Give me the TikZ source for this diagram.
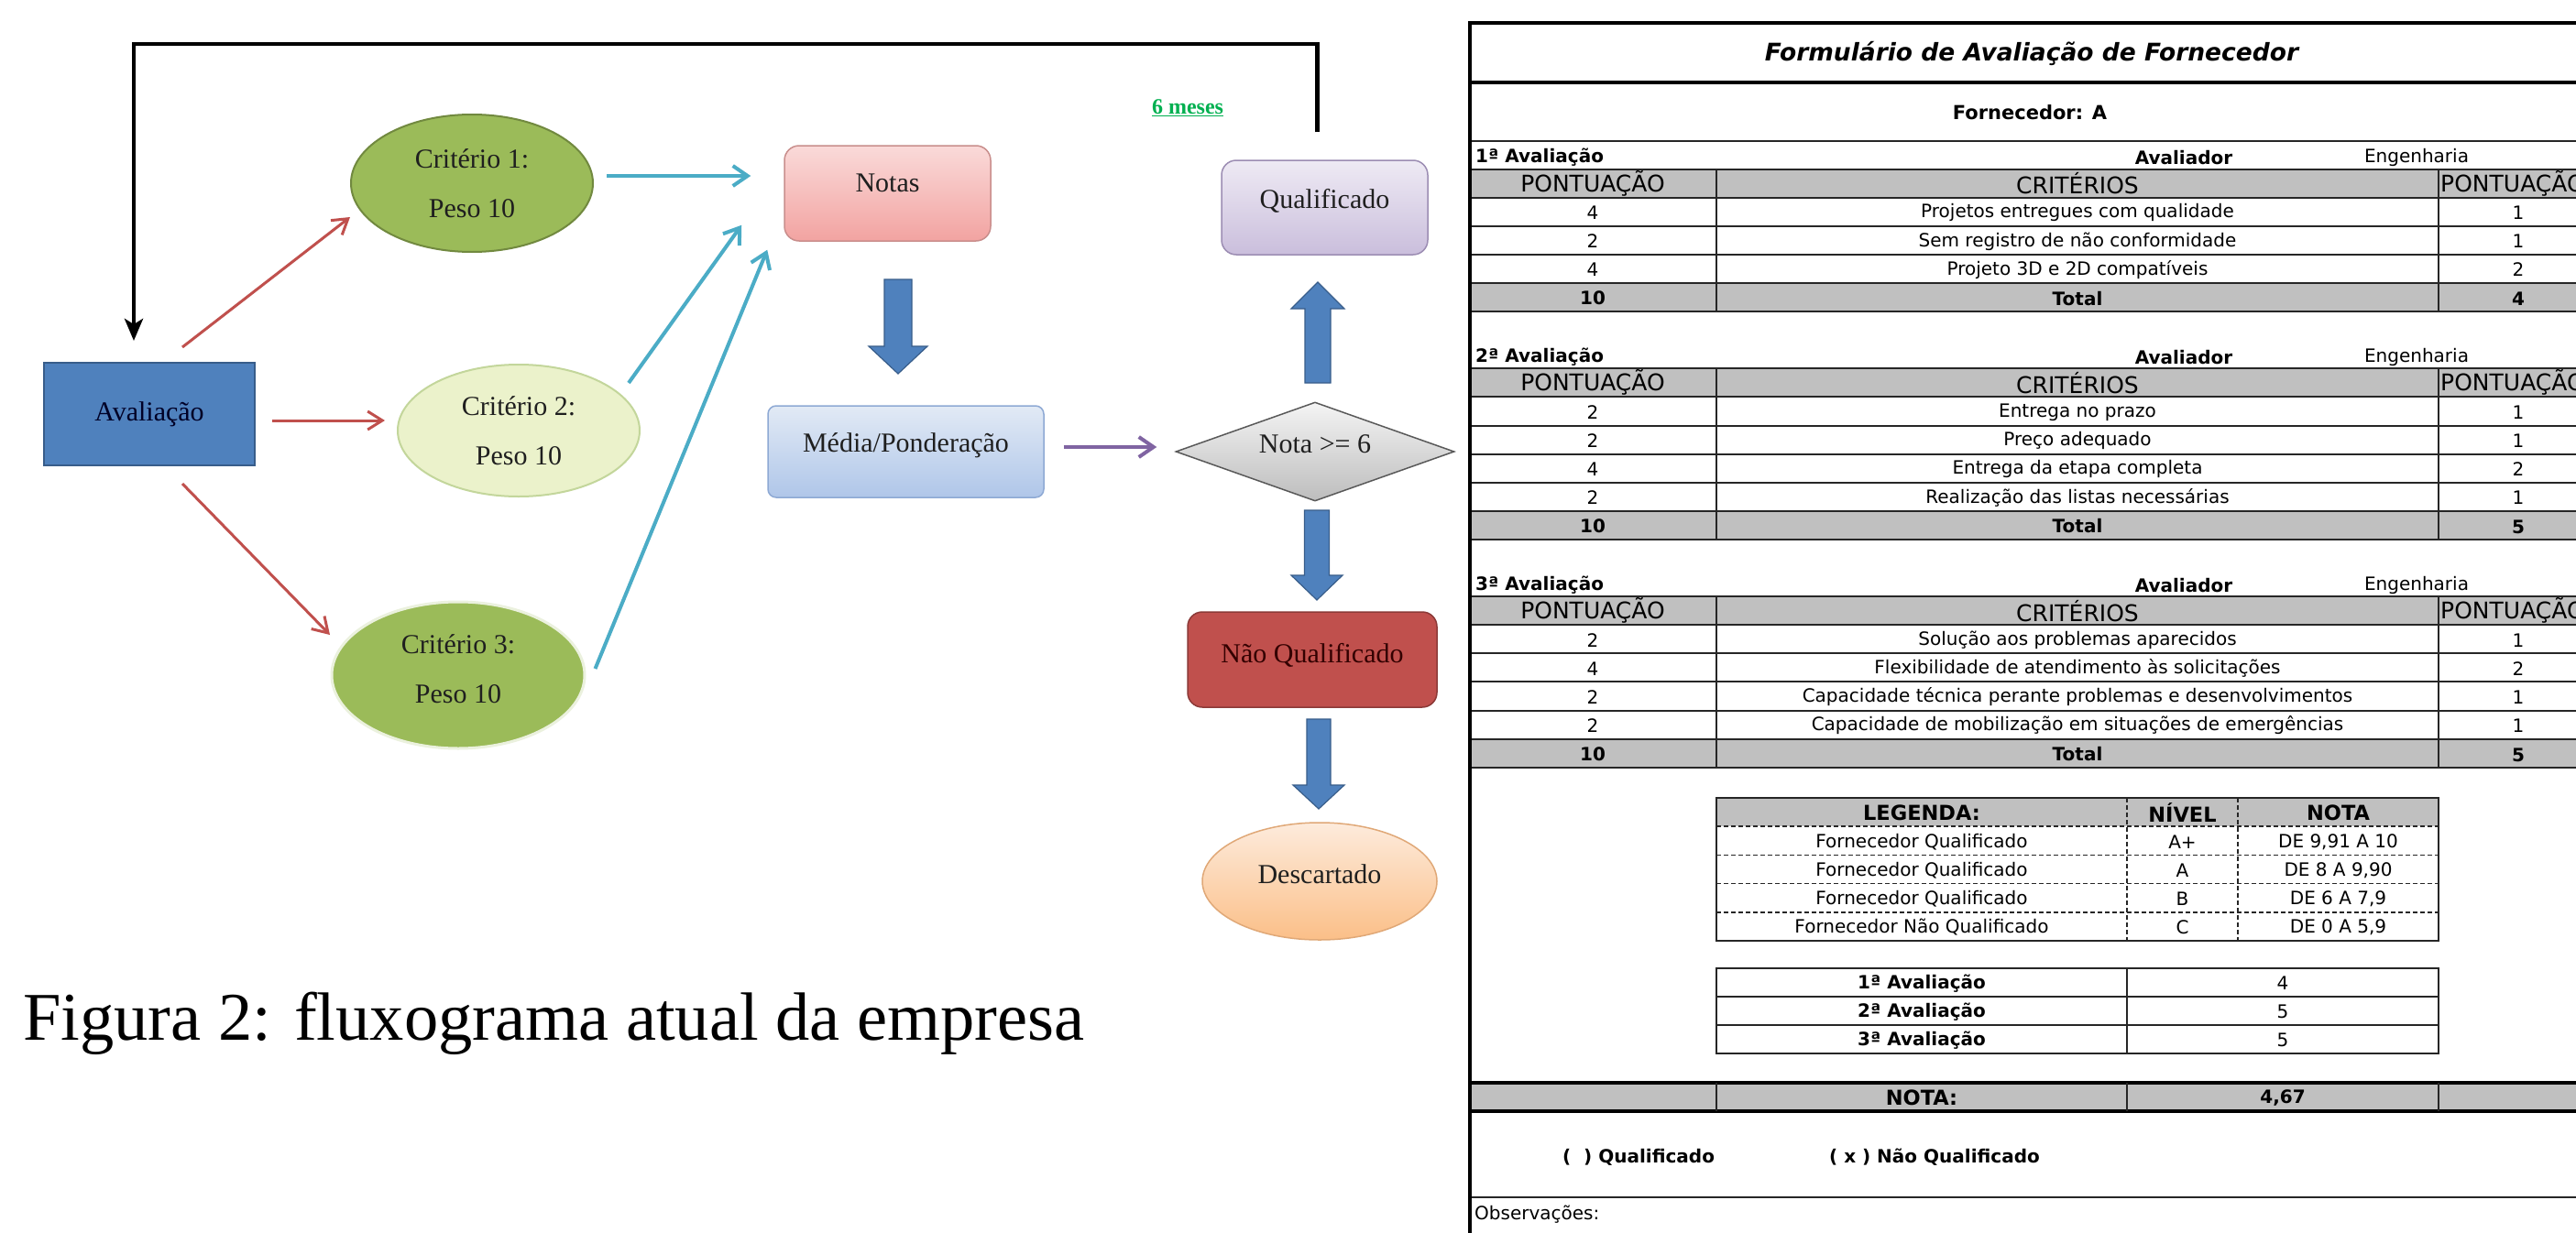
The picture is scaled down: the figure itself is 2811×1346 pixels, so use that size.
\documentclass[tikz,border=0pt]{standalone}
\usepackage{fontspec}
\usetikzlibrary{shapes.geometric,arrows.meta,calc}
\newfontfamily\diafont{Liberation Serif}
\newfontfamily\tabfont{DejaVu Sans}[BoldFont={DejaVu Sans Bold},ItalicFont={DejaVu Sans Oblique},BoldItalicFont={DejaVu Sans Bold Oblique}]
\definecolor{avalfill}{HTML}{4F81BD}
\definecolor{avalline}{HTML}{385D8A}
\definecolor{critfill}{HTML}{9BBB59}
\definecolor{critline}{HTML}{71893F}
\definecolor{crittwo}{HTML}{EBF2CB}
\definecolor{crittwoline}{HTML}{C3D69B}
\definecolor{notastop}{HTML}{FADAD9}
\definecolor{notasbot}{HTML}{F2A3A1}
\definecolor{notasline}{HTML}{C98E8C}
\definecolor{qualtop}{HTML}{EEEAF4}
\definecolor{qualbot}{HTML}{CABEDC}
\definecolor{qualline}{HTML}{9C8DB3}
\definecolor{mediatop}{HTML}{E2EAF5}
\definecolor{mediabot}{HTML}{AFC6E9}
\definecolor{medialine}{HTML}{8EA9D4}
\definecolor{notatop}{HTML}{F4F4F4}
\definecolor{notabot}{HTML}{BDBDBD}
\definecolor{notaline}{HTML}{595959}
\definecolor{naoqfill}{HTML}{C0504D}
\definecolor{naoqline}{HTML}{8C3A38}
\definecolor{desctop}{HTML}{FDEBDC}
\definecolor{descbot}{HTML}{FBBF88}
\definecolor{descline}{HTML}{E0A877}
\definecolor{arrred}{HTML}{C0504D}
\definecolor{arrcyan}{HTML}{4BACC6}
\definecolor{arrpurple}{HTML}{8064A2}
\definecolor{mesesgreen}{HTML}{00B050}
\definecolor{hdrgray}{HTML}{C0C0C0}

\newcommand{\blockarr}[6]{%
  \filldraw[blockarrow] (#1-#5,#2) -- (#1+#5,#2) -- (#1+#5,#3) -- (#1+#6,#3) -- (#1,#4) -- (#1-#6,#3) -- (#1-#5,#3) -- cycle;}

\newcommand{\evalsec}[3]{%
  \pgfmathsetmacro\evya{153.5+31.1*(#1+1)}%
  \pgfmathsetmacro\evyb{153.5+31.1*(#1+2)}%
  \pgfmathsetmacro\evyc{153.5+31.1*#2}%
  \pgfmathsetmacro\evyd{153.5+31.1*(#2+1)}%
  \pgfmathsetmacro\evyl{153.5+31.1*(#1+0.5)+3}%
  \pgfmathsetmacro\evyh{153.5+31.1*(#1+1.5)}%
  \pgfmathsetmacro\evyt{153.5+31.1*(#2+0.5)+1}%
  \pgfmathtruncatemacro\evfirst{#1+1}%
  \pgfmathtruncatemacro\evlast{#2+1}%
  \fill[hdrgray] (1603,\evya) rectangle (2811,\evyb);
  \fill[hdrgray] (1603,\evyc) rectangle (2811,\evyd);
  \foreach \j in {\evfirst,...,\evlast}{\draw[tline] (1603,{153.5+31.1*\j}) -- (2811,{153.5+31.1*\j});}
  \draw[tline] (1873,\evya) -- (1873,\evyd);
  \draw[tline] (2661,\evya) -- (2661,\evyd);
  \node[tbold,anchor=west] (lab#1) at (1610,\evyl) {#3};
  \node[tbold] (avr#1) at (2383,\evyl) {Avaliador};
  \node[tcell] (eng#1) at (2637,\evyl) {Engenharia};
  \node[thead] (hp#1) at (1738,\evyh) {PONTUAÇÃO};
  \node[thead] (hc#1) at (2267,\evyh) {CRITÉRIOS};
  \node[thead,anchor=west] (hq#1) at (2663,\evyh) {PONTUAÇÃO};
  \node[tbold] (tp#2) at (1738,\evyt) {10};
  \node[tbold] (tc#2) at (2267,\evyt) {Total};
}

\begin{document}
\begin{tikzpicture}[x=1pt,y=-1pt,
  dia/.style={font={\diafont\fontsize{30}{36}\selectfont},text=black!88},
  shapebox/.style={dia,rectangle,inner sep=0pt},
  critnode/.style={dia,ellipse,inner sep=0pt,align=center,line width=2pt},
  blockarrow/.style={fill=avalfill,draw=avalline,line width=1.2pt},
  redarr/.style={draw=arrred,line width=3pt,-{Straight Barb[length=16pt,width=20pt,line width=3pt]}},
  cyanarr/.style={draw=arrcyan,line width=4pt,-{Straight Barb[length=16pt,width=22pt,line width=4pt]}},
  purparr/.style={draw=arrpurple,line width=4pt,-{Straight Barb[length=16pt,width=22pt,line width=4pt]}},
  looparr/.style={draw=black,line width=4.5pt,-{Stealth[length=24pt,width=20pt,inset=6pt]}},
  tline/.style={draw=black!85,line width=2pt},
  tthick/.style={draw=black,line width=3.5pt},
  tdash/.style={draw=black!85,line width=1.6pt,dash pattern=on 5pt off 3pt},
  tcell/.style={font={\tabfont\fontsize{20}{24}\selectfont},inner sep=0pt,text=black},
  tbold/.style={font={\tabfont\bfseries\fontsize{20}{24}\selectfont},inner sep=0pt,text=black},
  tboldb/.style={font={\tabfont\bfseries\fontsize{22.5}{26}\selectfont},inner sep=0pt,text=black},
  thead/.style={font={\tabfont\fontsize{25}{30}\selectfont},inner sep=0pt,text=black}]
\useasboundingbox (0,0) rectangle (2811,1346);
\clip (0,0) rectangle (2811,1346);
\fill[white] (0,0) rectangle (2811,1346);

% ---------------- flowchart ----------------
\node[shapebox,fill=avalfill,draw=avalline,line width=2pt,minimum width=230pt,minimum height=112pt,text=black!85!blue] (aval) at (163,452) {Avaliação};
\node[critnode,fill=critfill,draw=critline,minimum width=264pt,minimum height=150pt] (crit1) at (515,200) {Critério 1:\\[18pt]Peso 10};
\node[critnode,fill=crittwo,draw=crittwoline,minimum width=264pt,minimum height=144pt] (crit2) at (566,470) {Critério 2:\\[18pt]Peso 10};
\node[critnode,fill=critfill,draw=white!80!critfill,line width=3pt,minimum width=276pt,minimum height=160pt,text depth=14pt] (crit3) at (500,737) {Critério 3:\\[18pt]Peso 10};
\node[shapebox,rounded corners=16pt,top color=notastop,bottom color=notasbot,draw=notasline,line width=1.5pt,minimum width=225pt,minimum height=104pt,text depth=22pt] (notas) at (968.5,211) {Notas};
\node[shapebox,rounded corners=16pt,top color=qualtop,bottom color=qualbot,draw=qualline,line width=1.5pt,minimum width=225pt,minimum height=103pt,text depth=19pt] (qual) at (1445.5,226.5) {Qualificado};
\node[shapebox,rounded corners=9pt,top color=mediatop,bottom color=mediabot,draw=medialine,line width=1.5pt,minimum width=301pt,minimum height=100pt,text depth=20pt] (media) at (988.5,493) {Média/Ponderação};
\node[dia,diamond,aspect=2.8,inner sep=0pt,top color=notatop,bottom color=notabot,draw=notaline,line width=1.5pt,minimum width=304pt,minimum height=108pt,text depth=16pt] (nota) at (1435,493) {Nota >= 6};
\node[shapebox,rounded corners=16pt,fill=naoqfill,draw=naoqline,line width=1.5pt,minimum width=272pt,minimum height=104pt,text depth=14pt,text=black!80!red] (naoq) at (1432,720) {Não Qualificado};
\node[dia,ellipse,inner sep=0pt,top color=desctop,bottom color=descbot,draw=descline,line width=1.5pt,minimum width=256pt,minimum height=128pt,text depth=16pt] (desc) at (1440,962) {Descartado};

\node[font={\diafont\bfseries\fontsize{24}{28}\selectfont},text=mesesgreen,inner sep=0pt] (meses) at (1296,118) {\underline{6 meses}};

% connectors
\draw[redarr] ($(aval.north)+(36,-16)$) -- ($(crit1.west)+(0,37)$);
\draw[redarr] ($(aval.east)+(18,7)$) -- ($(crit2.west)+(-13,-11)$);
\draw[redarr] ($(aval.south)+(36,19)$) -- ($(crit3.center)+(-140,-44)$);
\draw[cyanarr] ($(crit1.east)+(14,-8)$) -- ($(notas.west)+(-36,-19)$);
\draw[cyanarr] ($(crit2.center)+(120,-52)$) -- ($(notas.south west)+(-46,-18)$);
\draw[cyanarr] ($(crit3.east)+(10,-7)$) -- ($(notas.south west)+(-18,9)$);
\draw[purparr] ($(media.east)+(21,-5)$) -- ($(nota.west)+(-20,-5)$);
\coordinate (loopstart) at ($(qual.north)+(-8,-30)$);
\coordinate (looptop) at ($(loopstart)+(0,-96)$);
\coordinate (loopend) at ($(aval.north)+(-17,-23)$);
\draw[looparr] (loopstart) -- (looptop) -| (loopend);

% block arrows
\blockarr{980}{305}{378}{408}{15}{32}
\blockarr{1438}{418}{337}{308}{14}{29}
\blockarr{1437}{557}{628}{655}{13.5}{28}
\blockarr{1439}{785}{857}{883}{13}{28}

\node[anchor=base west,inner sep=0pt,font={\diafont\fontsize{74.5}{80}\selectfont}] (figcap) at (25,1135) {Figura 2: fluxograma atual da empresa};

% ---------------- form ----------------
\draw[tthick] (1603,25) -- (2811,25);
\draw[tthick] (1603,90) -- (2811,90);
\draw[tline] (1603,153.5) -- (2811,153.5);
\node[font={\tabfont\bfseries\itshape\fontsize{26.5}{30}\selectfont},inner sep=0pt] (title) at (2217,58) {Formulário de Avaliação de Fornecedor};
\node[font={\tabfont\bfseries\fontsize{21}{25}\selectfont},inner sep=0pt] (forn) at (2215,123) {Fornecedor: A};

\evalsec{0}{5}{1ª Avaliação}
\evalsec{7}{13}{2ª Avaliação}
\evalsec{15}{21}{3ª Avaliação}

\foreach \i/\p/\c/\q in {2/4/Projetos entregues com qualidade/1, 3/2/Sem registro de não conformidade/1, 4/4/Projeto 3D e 2D compatíveis/2,
  9/2/Entrega no prazo/1, 10/2/Preço adequado/1, 11/4/Entrega da etapa completa/2, 12/2/Realização das listas necessárias/1,
  17/2/Solução aos problemas aparecidos/1, 18/4/Flexibilidade de atendimento às solicitações/2, 19/2/Capacidade técnica perante problemas e desenvolvimentos/1, 20/2/Capacidade de mobilização em situações de emergências/1}{
  \pgfmathsetmacro\yy{169.05+31.1*\i+1}
  \node[tcell] (tp\i) at (1738,\yy) {\p};
  \node[tcell] (tc\i) at (2267,\yy) {\c};
  \node[tcell] (tq\i) at (2748,\yy) {\q};
}
\node[tbold] (tq5) at (2748,326) {4};
\node[tbold] (tq13) at (2748,575) {5};
\node[tbold] (tq21) at (2748,824) {5};

% legend table
\fill[hdrgray] (1873,871) rectangle (2661,902.2);
\foreach \y in {902.2,933.4,964.6,995.8}{\draw[tdash] (1873,\y) -- (2661,\y);}
\draw[tdash] (2321,871) -- (2321,1027);
\draw[tdash] (2442,871) -- (2442,1027);
\draw[tline] (1873,871) rectangle (2661,1027);
\node[tboldb] (lgh1) at (2097,887) {LEGENDA:};
\node[tboldb] (lgh2) at (2381.5,887) {NÍVEL};
\node[tboldb] (lgh3) at (2551.5,887) {NOTA};
\foreach \k/\a/\b/\c in {1/Fornecedor Qualificado/A+/{DE 9,91 A 10}, 2/Fornecedor Qualificado/A/{DE 8 A 9,90}, 3/Fornecedor Qualificado/B/{DE 6 A 7,9}, 4/Fornecedor Não Qualificado/C/{DE 0 A 5,9}}{
  \pgfmathsetmacro\yy{871+31.2*(\k+0.5)+1}
  \node[tcell] (lga\k) at (2097,\yy) {\a};
  \node[tcell] (lgb\k) at (2381.5,\yy) {\b};
  \node[tcell] (lgc\k) at (2551.5,\yy) {\c};
}

% summary table
\draw[tline] (1873,1057) rectangle (2661,1150);
\draw[tline] (1873,1088) -- (2661,1088);
\draw[tline] (1873,1119) -- (2661,1119);
\draw[tline] (2321,1057) -- (2321,1150);
\foreach \k/\a/\b in {1/1ª Avaliação/4, 2/2ª Avaliação/5, 3/3ª Avaliação/5}{
  \pgfmathsetmacro\yy{1057+31*(\k-0.5)+1}
  \node[tbold] (sma\k) at (2097,\yy) {\a};
  \node[tcell] (smb\k) at (2491,\yy) {\b};
}

% NOTA row
\fill[hdrgray] (1603,1182) rectangle (2811,1213);
\draw[tthick] (1603,1182) -- (2811,1182);
\draw[tthick] (1603,1213) -- (2811,1213);
\draw[tline] (1873,1182) -- (1873,1213);
\draw[tline] (2321,1182) -- (2321,1213);
\draw[tline] (2661,1182) -- (2661,1213);
\node[tboldb] (notalbl) at (2097,1198) {NOTA:};
\node[tbold] (notaval) at (2491,1198) {4,67};

\node[tbold] (ckq) at (1788,1263) {(\hspace{0.7em}) Qualificado};
\node[tbold] (cknq) at (2111,1263) {( x ) Não Qualificado};
\draw[tline] (1603,1307) -- (2811,1307);
\node[tcell,anchor=west] (obs) at (1609,1326) {Observações:};

\draw[draw=black,line width=4.5pt] (1604,23) -- (1604,1350);
\end{tikzpicture}
\end{document}
